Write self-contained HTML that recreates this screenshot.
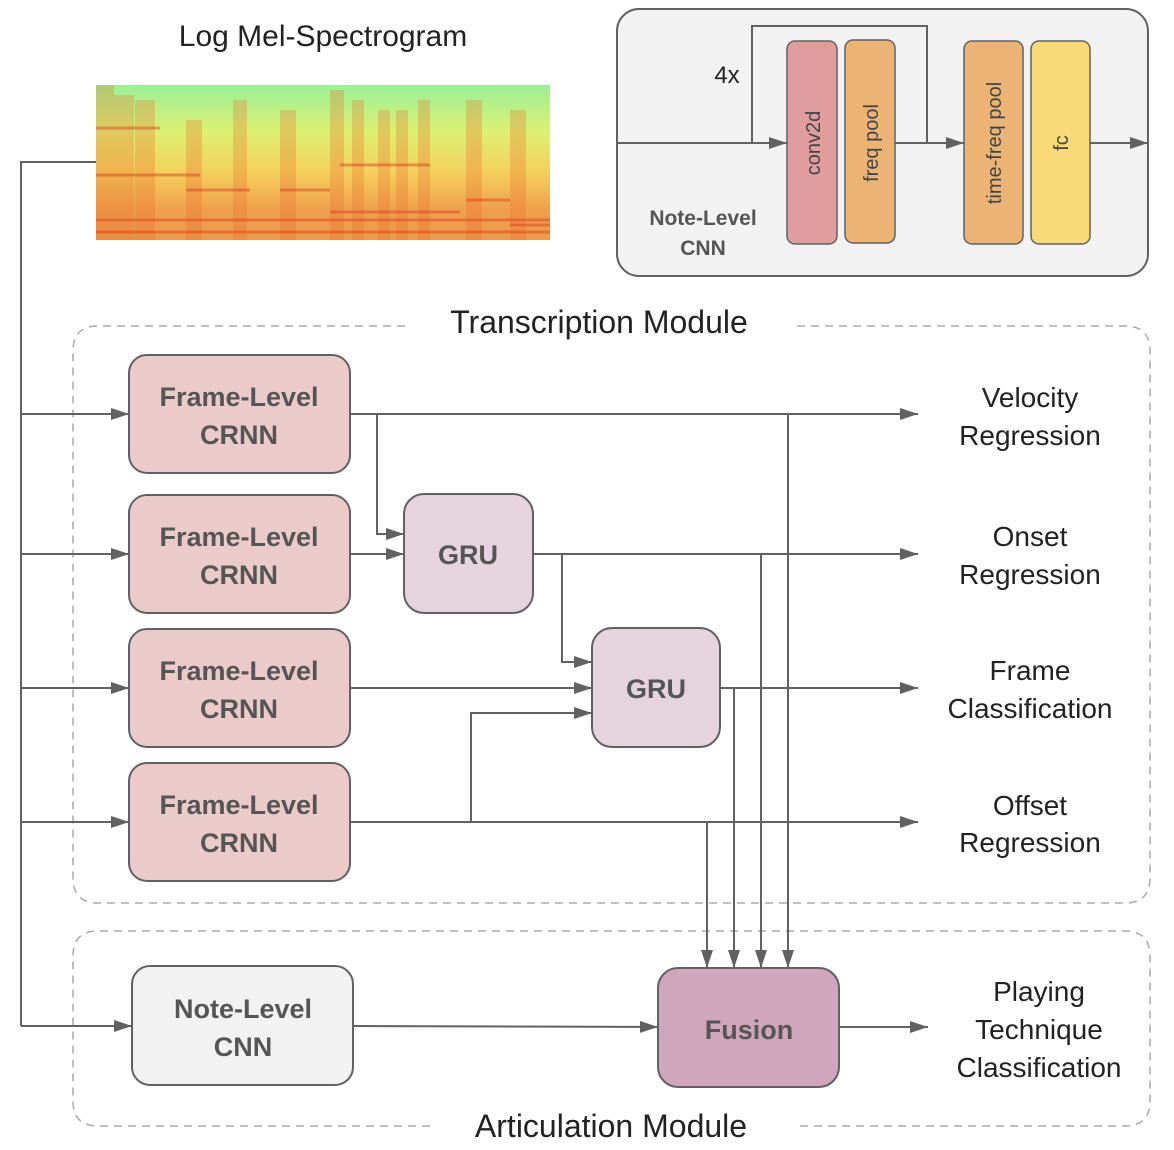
<!DOCTYPE html>
<html><head><meta charset="utf-8"><style>
html,body{margin:0;padding:0;background:#fff;}
svg{display:block;font-family:"Liberation Sans",sans-serif;}
</style></head><body>
<svg width="1174" height="1150" viewBox="0 0 1174 1150" xmlns="http://www.w3.org/2000/svg">
<defs>
<marker id="b" viewBox="0 0 18 12" markerWidth="18" markerHeight="12" refX="18" refY="6" orient="auto" markerUnits="userSpaceOnUse"><path d="M0,0 L18,6 L0,12 z" fill="#616161"/></marker>
<linearGradient id="sg" x1="0" y1="0" x2="0" y2="1">
<stop offset="0" stop-color="#9af098"/><stop offset="0.3" stop-color="#dcf072"/><stop offset="0.55" stop-color="#f4d25e"/><stop offset="0.8" stop-color="#f0a04c"/><stop offset="1" stop-color="#ee9a4c"/>
</linearGradient>
</defs>
<text x="323" y="46" font-size="30" text-anchor="middle" fill="#222">Log Mel-Spectrogram</text>
<rect x="96" y="85" width="454" height="155" fill="url(#sg)"/>
<g fill="#e8702e" opacity="0.3">
<rect x="96" y="85" width="18" height="155"/><rect x="112" y="95" width="22" height="145"/><rect x="135" y="100" width="20" height="140"/>
<rect x="186" y="120" width="16" height="120"/><rect x="233" y="100" width="14" height="140"/><rect x="280" y="110" width="16" height="130"/>
<rect x="330" y="90" width="14" height="150"/><rect x="352" y="100" width="12" height="140"/><rect x="378" y="110" width="12" height="130"/>
<rect x="396" y="110" width="12" height="130"/><rect x="418" y="100" width="12" height="140"/><rect x="466" y="100" width="16" height="140"/><rect x="510" y="110" width="16" height="130"/>
</g>
<g stroke="#d63a1e" stroke-width="3" opacity="0.45">
<line x1="96" y1="175" x2="200" y2="175"/><line x1="186" y1="190" x2="250" y2="190"/><line x1="280" y1="190" x2="330" y2="190"/>
<line x1="330" y1="212" x2="460" y2="212"/><line x1="466" y1="200" x2="510" y2="200"/><line x1="510" y1="225" x2="550" y2="225"/>
<line x1="96" y1="128" x2="160" y2="128"/><line x1="340" y1="165" x2="430" y2="165"/><line x1="96" y1="220" x2="550" y2="220"/><line x1="96" y1="232" x2="550" y2="232"/>
</g>
<rect x="617" y="9" width="531" height="267" rx="22" fill="#f2f2f2" stroke="#616161" stroke-width="2"/>
<rect x="787" y="41" width="50" height="203" rx="8" fill="#df9e9d" stroke="#616161" stroke-width="1.5"/>
<rect x="845" y="40" width="50" height="203" rx="8" fill="#ebb475" stroke="#616161" stroke-width="1.5"/>
<rect x="964" y="41" width="59" height="203" rx="8" fill="#ebb475" stroke="#616161" stroke-width="1.5"/>
<rect x="1031" y="41" width="59" height="203" rx="8" fill="#f8da78" stroke="#616161" stroke-width="1.5"/>
<g font-size="20" fill="#444" text-anchor="middle">
<text transform="translate(820,143) rotate(-90)">conv2d</text>
<text transform="translate(878,143) rotate(-90)">freq pool</text>
<text transform="translate(1001,143) rotate(-90)">time-freq pool</text>
<text transform="translate(1068,143) rotate(-90)">fc</text>
</g>
<g stroke="#616161" stroke-width="2" fill="none">
<line x1="617" y1="143" x2="787" y2="143" marker-end="url(#b)"/>
<polyline points="752,143 752,26 927,26 927,143"/>
<line x1="895" y1="143" x2="964" y2="143" marker-end="url(#b)"/>
<line x1="1090" y1="143" x2="1148" y2="143" marker-end="url(#b)"/>
</g>
<text x="727" y="83" font-size="24" text-anchor="middle" fill="#222">4x</text>
<text x="703" y="225" font-size="21" font-weight="bold" text-anchor="middle" fill="#555">Note-Level</text>
<text x="703" y="255" font-size="21" font-weight="bold" text-anchor="middle" fill="#555">CNN</text>
<path d="M405,326 H98 Q73,326 73,351 V878 Q73,903 98,903 H1125 Q1150,903 1150,878 V351 Q1150,326 1125,326 H795" fill="none" stroke="#aaa" stroke-width="1.5" stroke-dasharray="8,6"/>
<text x="599" y="333" font-size="32" text-anchor="middle" fill="#222">Transcription Module</text>
<path d="M430,1126 H98 Q73,1126 73,1101 V956 Q73,931 98,931 H1125 Q1150,931 1150,956 V1101 Q1150,1126 1125,1126 H798" fill="none" stroke="#aaa" stroke-width="1.5" stroke-dasharray="8,6"/>
<text x="611" y="1137" font-size="32" text-anchor="middle" fill="#222">Articulation Module</text>
<g stroke="#616161" stroke-width="2" fill="none">
<polyline points="96,162 21,162 21,1026"/>
<line x1="21" y1="414" x2="129" y2="414" marker-end="url(#b)"/>
<line x1="21" y1="554" x2="129" y2="554" marker-end="url(#b)"/>
<line x1="21" y1="688" x2="129" y2="688" marker-end="url(#b)"/>
<line x1="21" y1="822" x2="129" y2="822" marker-end="url(#b)"/>
<line x1="21" y1="1026" x2="132" y2="1026" marker-end="url(#b)"/>
<line x1="350" y1="414" x2="918" y2="414" marker-end="url(#b)"/>
<polyline points="377,414 377,534 404,534" marker-end="url(#b)"/>
<line x1="350" y1="554" x2="404" y2="554" marker-end="url(#b)"/>
<line x1="533" y1="554" x2="918" y2="554" marker-end="url(#b)"/>
<polyline points="562,554 562,662 592,662" marker-end="url(#b)"/>
<line x1="350" y1="688" x2="592" y2="688" marker-end="url(#b)"/>
<line x1="720" y1="688" x2="918" y2="688" marker-end="url(#b)"/>
<line x1="350" y1="822" x2="918" y2="822" marker-end="url(#b)"/>
<polyline points="471,822 471,713 592,713" marker-end="url(#b)"/>
<line x1="707" y1="822" x2="707" y2="968" marker-end="url(#b)"/>
<line x1="734" y1="688" x2="734" y2="968" marker-end="url(#b)"/>
<line x1="761" y1="554" x2="761" y2="968" marker-end="url(#b)"/>
<line x1="788" y1="414" x2="788" y2="968" marker-end="url(#b)"/>
<line x1="353" y1="1026" x2="658" y2="1027" marker-end="url(#b)"/>
<line x1="839" y1="1027" x2="928" y2="1027" marker-end="url(#b)"/>
</g>
<g stroke="#616161" stroke-width="2">
<rect x="129" y="355" width="221" height="118" rx="18" fill="#ebcbca"/>
<rect x="129" y="495" width="221" height="118" rx="18" fill="#ebcbca"/>
<rect x="129" y="629" width="221" height="118" rx="18" fill="#ebcbca"/>
<rect x="129" y="763" width="221" height="118" rx="18" fill="#ebcbca"/>
<rect x="404" y="494" width="129" height="119" rx="20" fill="#e5d3dd"/>
<rect x="592" y="628" width="128" height="119" rx="20" fill="#e5d3dd"/>
<rect x="132" y="966" width="221" height="119" rx="18" fill="#f2f2f2"/>
<rect x="658" y="968" width="181" height="119" rx="20" fill="#cfa6bb"/>
</g>
<g font-size="27" font-weight="bold" fill="#555" text-anchor="middle">
<text x="239" y="406">Frame-Level</text><text x="239" y="444">CRNN</text>
<text x="239" y="546">Frame-Level</text><text x="239" y="584">CRNN</text>
<text x="239" y="680">Frame-Level</text><text x="239" y="718">CRNN</text>
<text x="239" y="814">Frame-Level</text><text x="239" y="852">CRNN</text>
<text x="468" y="564">GRU</text>
<text x="656" y="698">GRU</text>
<text x="243" y="1018">Note-Level</text><text x="243" y="1056">CNN</text>
<text x="749" y="1039">Fusion</text>
</g>
<g font-size="28" fill="#222" text-anchor="middle">
<text x="1030" y="407">Velocity</text><text x="1030" y="445">Regression</text>
<text x="1030" y="546">Onset</text><text x="1030" y="584">Regression</text>
<text x="1030" y="680">Frame</text><text x="1030" y="718">Classification</text>
<text x="1030" y="815">Offset</text><text x="1030" y="852">Regression</text>
<text x="1039" y="1001">Playing</text><text x="1039" y="1039">Technique</text><text x="1039" y="1077">Classification</text>
</g>
</svg>
</body></html>
